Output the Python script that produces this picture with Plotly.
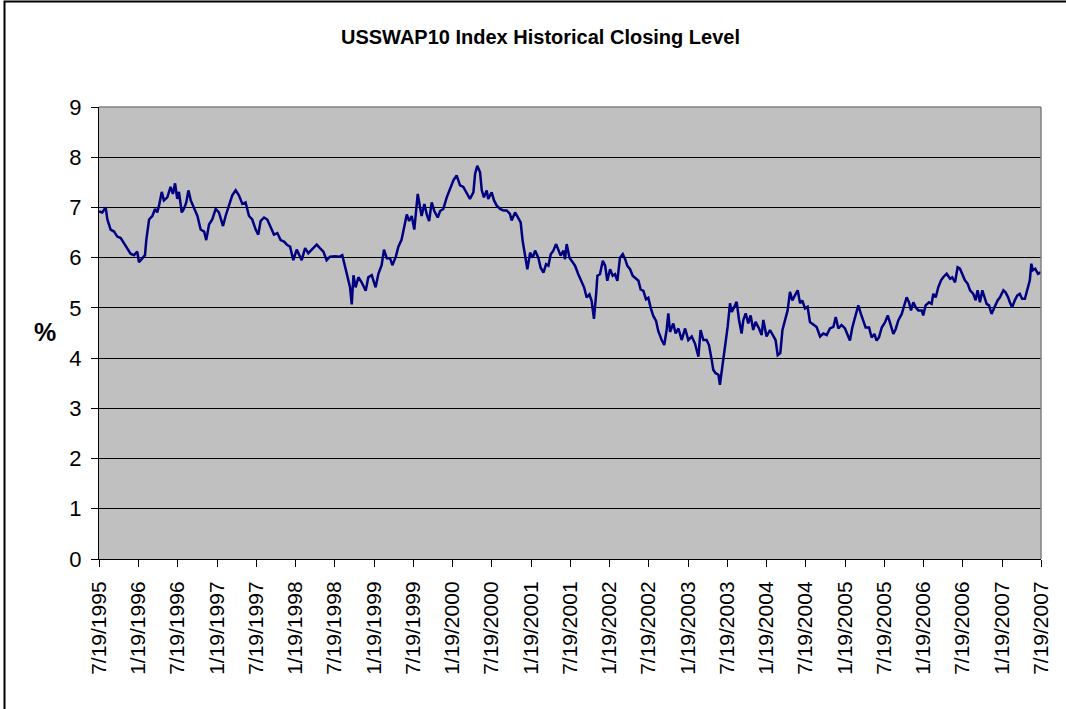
import plotly.graph_objects as go

# ---------------- data ----------------
dates = [
    "1995-07-19", "1995-08-03", "1995-08-19", "1995-08-27", "1995-09-11", "1995-09-27", "1995-10-12", "1995-10-28",
    "1995-11-12", "1995-11-28", "1995-12-13", "1995-12-29", "1996-01-13", "1996-01-21", "1996-02-06", "1996-02-18",
    "1996-02-24", "1996-03-08", "1996-03-23", "1996-04-05", "1996-04-15", "1996-04-23", "1996-05-06", "1996-05-16",
    "1996-06-01", "1996-06-16", "1996-06-27", "1996-07-07", "1996-07-17", "1996-07-25", "1996-08-07", "1996-08-17",
    "1996-08-28", "1996-09-07", "1996-09-18", "1996-10-03", "1996-10-19", "1996-11-03", "1996-11-19", "1996-11-29",
    "1996-12-12", "1996-12-27", "1997-01-12", "1997-01-27", "1997-02-15", "1997-02-27", "1997-03-15", "1997-03-30",
    "1997-04-15", "1997-04-30", "1997-05-16", "1997-05-31", "1997-06-16", "1997-07-01", "1997-07-17", "1997-07-29",
    "1997-08-09", "1997-08-25", "1997-09-09", "1997-09-25", "1997-10-10", "1997-10-26", "1997-11-10", "1997-11-26",
    "1997-12-11", "1997-12-24", "1998-01-08", "1998-01-24", "1998-02-08", "1998-02-16", "1998-03-04", "1998-03-19",
    "1998-04-04", "1998-04-27", "1998-05-12", "1998-05-28", "1998-06-12", "1998-06-28", "1998-07-21", "1998-08-13",
    "1998-08-24", "1998-09-06", "1998-09-18", "1998-09-29", "1998-10-07", "1998-10-15", "1998-10-25", "1998-11-07",
    "1998-11-22", "1998-12-11", "1998-12-23", "1999-01-08", "1999-01-26", "1999-02-08", "1999-02-23", "1999-03-06",
    "1999-03-19", "1999-04-03", "1999-04-14", "1999-04-30", "1999-05-12", "1999-05-27", "1999-06-09", "1999-06-20",
    "1999-07-01", "1999-07-13", "1999-07-25", "1999-08-05", "1999-08-10", "1999-08-21", "1999-08-28", "1999-09-10",
    "1999-09-21", "1999-10-02", "1999-10-14", "1999-10-26", "1999-11-11", "1999-11-22", "1999-12-07", "1999-12-23",
    "2000-01-07", "2000-01-23", "2000-02-07", "2000-02-23", "2000-03-09", "2000-03-25", "2000-04-09", "2000-04-25",
    "2000-05-03", "2000-05-13", "2000-05-26", "2000-06-03", "2000-06-13", "2000-06-26", "2000-07-03", "2000-07-19",
    "2000-07-30", "2000-08-11", "2000-08-27", "2000-09-11", "2000-09-27", "2000-10-12", "2000-10-20", "2000-11-05",
    "2000-11-20", "2000-12-01", "2000-12-10", "2000-12-21", "2001-01-01", "2001-01-14", "2001-01-26", "2001-02-06",
    "2001-02-21", "2001-03-04", "2001-03-17", "2001-03-29", "2001-04-09", "2001-04-20", "2001-05-02", "2001-05-15",
    "2001-05-25", "2001-06-05", "2001-06-18", "2001-06-25", "2001-07-03", "2001-07-16", "2001-07-26", "2001-08-11",
    "2001-08-26", "2001-09-11", "2001-09-22", "2001-10-04", "2001-10-17", "2001-10-27", "2001-11-07", "2001-11-17",
    "2001-11-23", "2001-12-05", "2001-12-18", "2001-12-29", "2002-01-08", "2002-01-21", "2002-02-02", "2002-02-13",
    "2002-02-24", "2002-03-08", "2002-03-21", "2002-04-01", "2002-04-11", "2002-04-24", "2002-05-06", "2002-05-17",
    "2002-06-02", "2002-06-12", "2002-06-25", "2002-07-07", "2002-07-18", "2002-07-29", "2002-08-10", "2002-08-23",
    "2002-09-02", "2002-09-18", "2002-09-30", "2002-10-11", "2002-10-19", "2002-10-27", "2002-11-11", "2002-11-22",
    "2002-12-05", "2002-12-20", "2003-01-05", "2003-01-20", "2003-02-05", "2003-02-20", "2003-03-08", "2003-03-18",
    "2003-03-31", "2003-04-15", "2003-04-26", "2003-05-09", "2003-05-16", "2003-05-27", "2003-06-09", "2003-06-16",
    "2003-06-24", "2003-07-05", "2003-07-13", "2003-07-22", "2003-08-02", "2003-08-10", "2003-08-22", "2003-09-02",
    "2003-09-13", "2003-09-25", "2003-10-03", "2003-10-14", "2003-10-26", "2003-11-06", "2003-11-18", "2003-11-29",
    "2003-12-15", "2003-12-27", "2004-01-04", "2004-01-19", "2004-02-04", "2004-02-20", "2004-03-01", "2004-03-11",
    "2004-03-23", "2004-04-02", "2004-04-14", "2004-04-26", "2004-05-07", "2004-05-18", "2004-05-30", "2004-06-12",
    "2004-06-23", "2004-07-03", "2004-07-16", "2004-07-28", "2004-08-08", "2004-08-24", "2004-09-08", "2004-09-24",
    "2004-10-09", "2004-10-25", "2004-11-09", "2004-11-25", "2004-12-06", "2004-12-18", "2005-01-02", "2005-01-18",
    "2005-02-02", "2005-02-10", "2005-02-21", "2005-03-06", "2005-03-21", "2005-04-02", "2005-04-13", "2005-04-24",
    "2005-05-10", "2005-05-22", "2005-06-04", "2005-06-14", "2005-06-25", "2005-07-08", "2005-07-23", "2005-08-05",
    "2005-08-15", "2005-08-31", "2005-09-11", "2005-09-23", "2005-10-09", "2005-10-21", "2005-11-01", "2005-11-12",
    "2005-11-21", "2005-12-02", "2005-12-13", "2005-12-25", "2006-01-10", "2006-01-17", "2006-01-28", "2006-02-13",
    "2006-02-25", "2006-03-05", "2006-03-16", "2006-03-28", "2006-04-10", "2006-04-20", "2006-05-06", "2006-05-22",
    "2006-06-01", "2006-06-14", "2006-06-26", "2006-07-07", "2006-07-18", "2006-07-30", "2006-08-12", "2006-08-23",
    "2006-09-07", "2006-09-18", "2006-09-27", "2006-10-08", "2006-10-19", "2006-10-28", "2006-11-08", "2006-11-19",
    "2006-12-01", "2006-12-14", "2006-12-29", "2007-01-09", "2007-01-25", "2007-02-04", "2007-02-16", "2007-02-24",
    "2007-03-07", "2007-03-19", "2007-03-31", "2007-04-11", "2007-04-22", "2007-05-05", "2007-05-17", "2007-05-28",
    "2007-06-04", "2007-06-11", "2007-06-22", "2007-07-05", "2007-07-19",
]

closing_level = [
    6.92, 6.90, 7.00, 6.76, 6.56, 6.52, 6.42, 6.39,
    6.29, 6.18, 6.08, 6.05, 6.12, 5.91, 6.00, 6.05,
    6.35, 6.76, 6.83, 6.97, 6.90, 7.03, 7.31, 7.14,
    7.20, 7.41, 7.27, 7.48, 7.17, 7.31, 6.90, 6.97,
    7.10, 7.34, 7.14, 6.97, 6.83, 6.56, 6.52, 6.35,
    6.66, 6.76, 6.97, 6.90, 6.63, 6.83, 7.03, 7.24,
    7.34, 7.24, 7.07, 7.10, 6.83, 6.76, 6.56, 6.46,
    6.73, 6.80, 6.76, 6.59, 6.46, 6.49, 6.35, 6.32,
    6.25, 6.22, 5.95, 6.16, 6.02, 5.95, 6.19, 6.09,
    6.16, 6.26, 6.19, 6.12, 5.95, 6.02, 6.03, 6.02,
    6.05, 5.82, 5.61, 5.41, 5.07, 5.65, 5.41, 5.61,
    5.51, 5.34, 5.61, 5.65, 5.41, 5.68, 5.85, 6.16,
    5.99, 5.99, 5.85, 6.02, 6.22, 6.36, 6.63, 6.86,
    6.73, 6.83, 6.56, 6.97, 7.27, 7.00, 6.83, 7.07,
    6.86, 6.73, 7.10, 6.93, 6.80, 6.93, 6.97, 7.20,
    7.37, 7.54, 7.64, 7.44, 7.41, 7.27, 7.17, 7.30,
    7.67, 7.83, 7.70, 7.34, 7.20, 7.34, 7.17, 7.30,
    7.14, 7.04, 6.97, 6.94, 6.94, 6.87, 6.74, 6.90,
    6.80, 6.70, 6.34, 6.07, 5.77, 6.10, 6.00, 6.14,
    6.00, 5.80, 5.70, 5.87, 5.84, 6.07, 6.14, 6.27,
    6.14, 6.04, 6.14, 5.97, 6.27, 6.00, 5.94, 5.84,
    5.67, 5.51, 5.41, 5.21, 5.27, 5.14, 4.78, 5.27,
    5.64, 5.67, 5.94, 5.84, 5.54, 5.77, 5.64, 5.67,
    5.54, 6.00, 6.07, 5.97, 5.84, 5.77, 5.64, 5.60,
    5.54, 5.37, 5.34, 5.17, 5.20, 5.00, 4.84, 4.74,
    4.54, 4.36, 4.26, 4.56, 4.89, 4.52, 4.69, 4.49,
    4.59, 4.36, 4.59, 4.36, 4.43, 4.29, 4.03, 4.56,
    4.36, 4.36, 4.26, 3.96, 3.77, 3.70, 3.67, 3.47,
    3.73, 4.00, 4.36, 4.62, 5.09, 4.92, 5.02, 5.12,
    4.76, 4.49, 4.76, 4.89, 4.69, 4.85, 4.56, 4.72,
    4.59, 4.46, 4.76, 4.43, 4.56, 4.43, 4.36, 4.06,
    4.10, 4.56, 4.76, 4.95, 5.32, 5.15, 5.25, 5.35,
    5.09, 5.15, 4.99, 5.02, 4.72, 4.66, 4.62, 4.43,
    4.49, 4.46, 4.59, 4.62, 4.82, 4.59, 4.66, 4.59,
    4.43, 4.35, 4.61, 4.81, 5.05, 4.88, 4.75, 4.61,
    4.61, 4.41, 4.48, 4.35, 4.41, 4.61, 4.71, 4.85,
    4.71, 4.48, 4.58, 4.75, 4.88, 5.05, 5.21, 5.11,
    4.95, 5.11, 5.01, 4.95, 4.95, 4.85, 5.05, 5.11,
    5.08, 5.28, 5.21, 5.41, 5.55, 5.61, 5.68, 5.58,
    5.61, 5.51, 5.81, 5.78, 5.68, 5.55, 5.48, 5.35,
    5.28, 5.15, 5.35, 5.11, 5.35, 5.21, 5.08, 5.05,
    4.88, 5.01, 5.15, 5.21, 5.35, 5.31, 5.21, 5.11,
    5.01, 5.15, 5.25, 5.28, 5.18, 5.18, 5.35, 5.55,
    5.88, 5.75, 5.78, 5.68, 5.71,
]

tick_dates = [
    "1995-07-19", "1996-01-19", "1996-07-19", "1997-01-19", "1997-07-19", "1998-01-19", "1998-07-19",
    "1999-01-19", "1999-07-19", "2000-01-19", "2000-07-19", "2001-01-19", "2001-07-19", "2002-01-19",
    "2002-07-19", "2003-01-19", "2003-07-19", "2004-01-19", "2004-07-19", "2005-01-19", "2005-07-19",
    "2006-01-19", "2006-07-19", "2007-01-19", "2007-07-19",
]
tick_labels = [
    "7/19/1995", "1/19/1996", "7/19/1996", "1/19/1997", "7/19/1997", "1/19/1998", "7/19/1998",
    "1/19/1999", "7/19/1999", "1/19/2000", "7/19/2000", "1/19/2001", "7/19/2001", "1/19/2002",
    "7/19/2002", "1/19/2003", "7/19/2003", "1/19/2004", "7/19/2004", "1/19/2005", "7/19/2005",
    "1/19/2006", "7/19/2006", "1/19/2007", "7/19/2007",
]
y_ticks = [0, 1, 2, 3, 4, 5, 6, 7, 8, 9]

chart_title = "USSWAP10 Index Historical Closing Level"
y_label = "%"

# ---------------- figure ----------------
FONT = "Liberation Sans, Arial, sans-serif"

fig = go.Figure()
fig.add_trace(go.Scatter(
    x=dates, y=closing_level, mode="lines",
    line=dict(color="#000080", width=2.5),
    showlegend=False, hoverinfo="x+y",
))

fig.update_layout(
    width=1066, height=709,
    margin=dict(l=99, r=25, t=107, b=150, autoexpand=False),
    paper_bgcolor="white",
    plot_bgcolor="#C0C0C0",
    font=dict(family=FONT, color="black"),
    showlegend=False,
)

fig.update_xaxes(
    type="date",
    range=[tick_dates[0], tick_dates[-1]],
    tickmode="array", tickvals=tick_dates, ticktext=tick_labels,
    tickangle=-90,
    tickfont=dict(family=FONT, size=21, color="black"),
    ticks="outside", ticklen=7, tickwidth=1, tickcolor="black",
    ticklabelstandoff=6,
    showline=True, linecolor="black", linewidth=1,
    showgrid=False, zeroline=False,
)
fig.update_yaxes(
    range=[0, 9],
    tickmode="array", tickvals=y_ticks,
    tickfont=dict(family=FONT, size=22, color="black"),
    ticks="outside", ticklen=7, tickwidth=1, tickcolor="black",
    ticklabelstandoff=5,
    showline=True, linecolor="black", linewidth=1,
    showgrid=True, gridcolor="black", gridwidth=1,
    zeroline=False,
)

# plot-area border (grey on top and right)
fig.add_shape(type="line", xref="paper", yref="paper", x0=0, x1=1, y0=1, y1=1,
              line=dict(color="#808080", width=1.5), layer="above")
fig.add_shape(type="line", xref="paper", yref="paper", x0=1, x1=1, y0=0, y1=1,
              line=dict(color="#808080", width=1.5), layer="above")

# outer chart frame
fig.add_shape(type="rect", xref="paper", yref="paper",
              x0=(4.5 - 99) / 942, x1=(1080 - 99) / 942,
              y0=(559 - 725) / 452, y1=(559 - 1.5) / 452,
              line=dict(color="black", width=2), fillcolor="rgba(0,0,0,0)", layer="below")

# title
fig.add_annotation(text="<b>" + chart_title + "</b>", xref="paper", yref="paper",
                   x=(540 - 99) / 942, y=(559 - 37) / 452, xanchor="center", yanchor="middle",
                   showarrow=False, font=dict(family=FONT, size=20, color="black"))
# y label
fig.add_annotation(text="<b>" + y_label + "</b>", xref="paper", yref="paper",
                   x=(45 - 99) / 942, y=(559 - 332) / 452, xanchor="center", yanchor="middle",
                   showarrow=False, font=dict(family=FONT, size=25, color="black"))

fig.write_html("out.html", config={"displayModeBar": False},
               post_script="document.body.style.margin='0';document.body.style.overflow='hidden';")
